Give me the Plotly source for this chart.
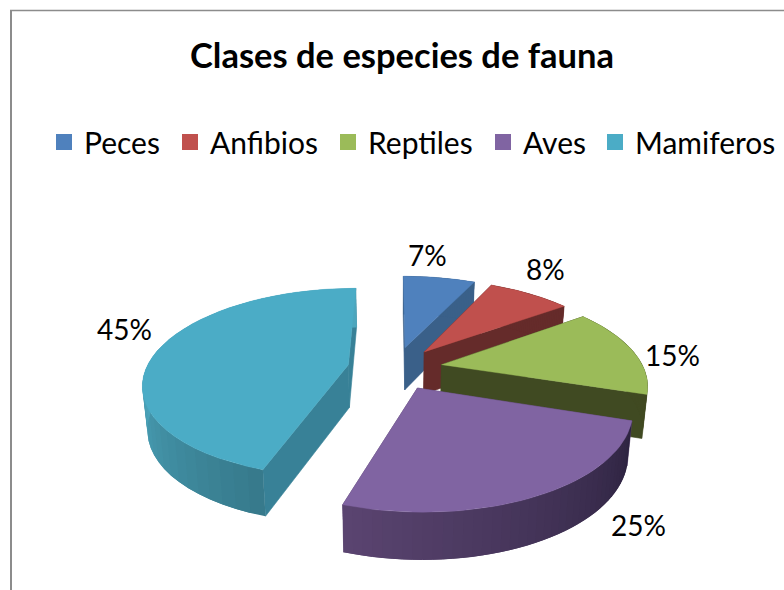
import math
import plotly.graph_objects as go

categories = ["Peces", "Anfibios", "Reptiles", "Aves", "Mamiferos"]
values = [7, 8, 15, 25, 45]
title_text = "Clases de especies de fauna"
colors_top = ["#4f81bd", "#c0504d", "#9bbb59", "#8064a2", "#4bacc6"]
colors_face = ["#3a6089", "#652b2a", "#404a22", "#5a4470", "#388197"]
wall_from = ["#3a6089", "#652b2a", "#404a22", "#2d2340", "#377a8c"]
wall_to = ["#3a6089", "#652b2a", "#404a22", "#5a4470", "#4ca6bd"]
label_pos = [(427, 255), (545, 269), (672, 355), (638, 525), (124, 329)]
legend_left = [44, 170, 328, 483, 595]

# projection of the exploded 3-D pie onto the page
CX, CY, AX, BY, PERSP, EXPL, DEPTH = 395, 368, 202, 92, 0.189, 0.235, 43


def project(theta, r, mid, bottom=False):
    X = r * math.sin(theta) + EXPL * math.sin(mid)
    Y = r * math.cos(theta) + EXPL * math.cos(mid)
    s = 1 / (1 + PERSP * Y)
    x, y = AX * X * s, -BY * Y * s
    if bottom:
        x *= 0.98
        y += DEPTH * (1 - 0.09 * Y)
    return CX + x, CY + y


def mix(c1, c2, t):
    a = [int(c1[i:i + 2], 16) for i in (1, 3, 5)]
    b = [int(c2[i:i + 2], 16) for i in (1, 3, 5)]
    return "#%02x%02x%02x" % tuple(round(u + (v - u) * t) for u, v in zip(a, b))


def poly(fig, pts, color, lw=0.6):
    fig.add_trace(go.Scatter(
        x=[p[0] for p in pts] + [pts[0][0]], y=[p[1] for p in pts] + [pts[0][1]],
        mode="lines", fill="toself", fillcolor=color,
        line=dict(color=color, width=lw), showlegend=False, hoverinfo="skip"))


fig = go.Figure()
total = sum(values)
slices = []
cum = 0
for i, v in enumerate(values):
    a0 = cum / total * 2 * math.pi
    cum += v
    a1 = cum / total * 2 * math.pi
    slices.append((i, a0, a1))

for i, a0, a1 in [slices[k] for k in (0, 1, 2, 4, 3)]:
    mid = (a0 + a1) / 2
    for a in (a0, a1):
        poly(fig, [project(0, 0, mid), project(a, 1, mid),
                   project(a, 1, mid, True), project(0, 0, mid, True)], colors_face[i])
    n = 40
    angles = [a0 + (a1 - a0) * k / n for k in range(n + 1)]
    for k in range(n):
        t = k / (n - 1)
        if i == 4:
            t = min(1, t / 0.45)
        k2 = min(k + 2, n)
        arc_top = [project(a, 1, mid) for a in angles[k:k2 + 1]]
        arc_bot = [project(a, 1, mid, True) for a in angles[k:k2 + 1]]
        poly(fig, arc_top + arc_bot[::-1], mix(wall_from[i], wall_to[i], t), 0)
    poly(fig, [project(0, 0, mid)] + [project(a, 1, mid) for a in angles], colors_top[i], 0.4)

legends = {}
for j, (name, color, left) in enumerate(zip(categories, colors_top, legend_left)):
    key = "legend" if j == 0 else f"legend{j + 1}"
    fig.add_trace(go.Scatter(x=[None], y=[None], mode="markers", name=name, legend=key,
                             marker=dict(symbol="square", size=18, color=color)))
    legends[key] = dict(x=left / 784, xanchor="left", y=1 - 142 / 590, yanchor="middle",
                        font=dict(family="Lato", size=30, color="#000000"),
                        bgcolor="rgba(0,0,0,0)", itemwidth=30)

for v, (x, y) in zip(values, label_pos):
    fig.add_annotation(x=x, y=y, text=f"{v}%", showarrow=False,
                       font=dict(family="Lato", size=28, color="#000000"))

fig.add_shape(type="line", x0=11, x1=11, y0=10, y1=590, line=dict(color="#8c8c8c", width=2))
fig.add_shape(type="line", x0=10, x1=784, y0=10.5, y1=10.5, line=dict(color="#8c8c8c", width=1.5))

fig.update_layout(
    width=784, height=590, margin=dict(l=0, r=0, t=0, b=0),
    paper_bgcolor="white", plot_bgcolor="white",
    font=dict(family="Lato", color="#000000"),
    title=dict(text=f"<b>{title_text}</b>", x=402 / 784, xanchor="center",
               y=1 - 56 / 590, yanchor="middle", font=dict(family="Lato", size=34.5, color="#000000")),
    xaxis=dict(range=[0, 784], visible=False, fixedrange=True),
    yaxis=dict(range=[590, 0], visible=False, fixedrange=True),
    showlegend=True,
    **legends,
)
fig.write_html("out.html", config={"displayModeBar": False},
               post_script="document.body.style.margin='0';document.body.style.overflow='hidden';")
